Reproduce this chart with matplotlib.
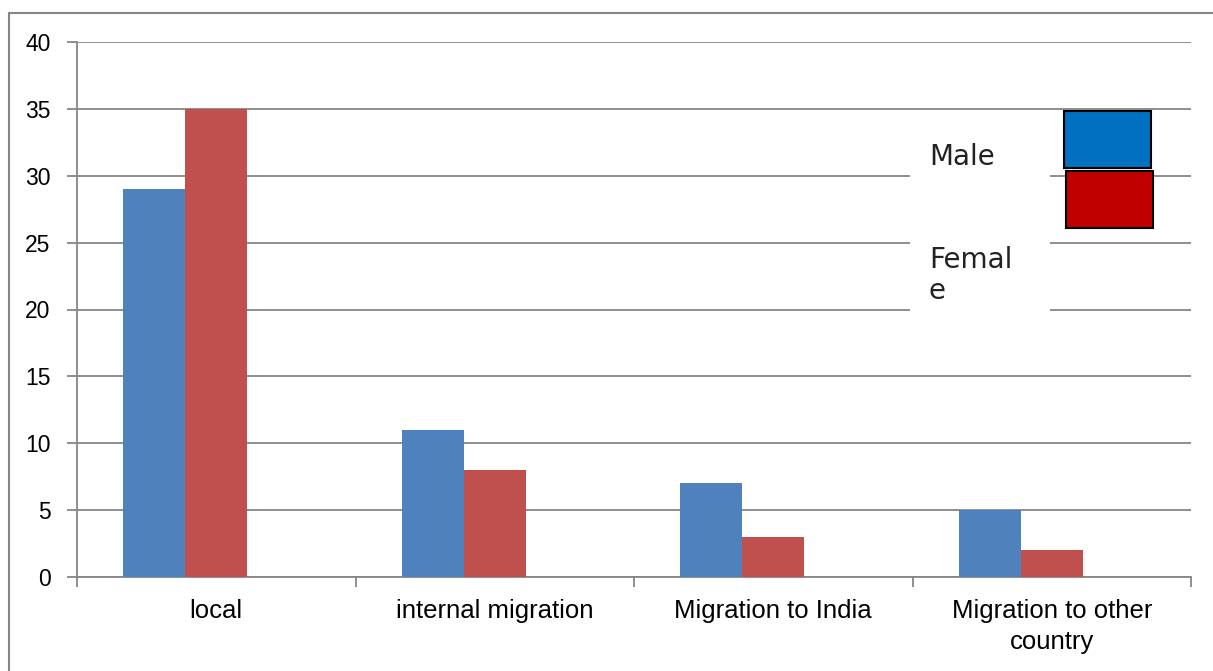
import matplotlib
matplotlib.use("Agg")
import matplotlib.pyplot as plt
from matplotlib.patches import Rectangle
import numpy as np

categories = ["local", "internal migration", "Migration to India", "Migration to other\ncountry"]
male = [29, 11, 7, 5]
female = [35, 8, 3, 2]
yticks = [0, 5, 10, 15, 20, 25, 30, 35, 40]

fig = plt.figure(figsize=(12.13, 6.71), dpi=100)
ax = fig.add_axes([77 / 1213, 1 - 577 / 671, (1191 - 77) / 1213, (577 - 42) / 671])

grid_c = "#868686"
x = np.arange(len(categories))
w = 1 / 4.5
ax.bar(x - w, male, w, align="center", color="#4F81BD", zorder=3)
ax.bar(x, female, w, align="center", color="#C0504D", zorder=3)

ax.set_xlim(-0.5, len(categories) - 0.5)
ax.set_ylim(0, 40)
ax.set_yticks(yticks)
ax.set_yticklabels([str(v) for v in yticks], fontsize=16.5, family="Liberation Sans")
for v in yticks:
    ax.axhline(v, color=grid_c, lw=1.3, zorder=1)

ax.set_xticks(x)
ax.set_xticklabels(categories, fontsize=18.5, family="Liberation Sans", linespacing=1.35)
ax.set_xticks(np.arange(len(categories) + 1) - 0.5, minor=True)
ax.tick_params(axis="x", which="major", length=0, pad=16)
ax.tick_params(axis="x", which="minor", length=7, color=grid_c, width=1.3, direction="out")
ax.tick_params(axis="y", length=7, color=grid_c, width=1.3, pad=12)
for s in ["top", "right"]:
    ax.spines[s].set_visible(False)
for s in ["left", "bottom"]:
    ax.spines[s].set_color(grid_c)
    ax.spines[s].set_linewidth(1.3)

# outer chart border
fig.patches.append(Rectangle((9 / 1213, -0.1), 1.2, 1 - 13 / 671 + 0.1, transform=fig.transFigure,
                             fill=False, edgecolor=grid_c, lw=1.5))

# legend (white block over gridlines, boxes at right)
def fx(px):
    return px / 1213

def fy(py):
    return 1 - py / 671

fig.patches.append(Rectangle((fx(910), fy(322)), fx(140), (322 - 118) / 671, transform=fig.transFigure,
                             facecolor="white", edgecolor="none", zorder=5))
fig.patches.append(Rectangle((fx(1064), fy(168)), fx(87), 57 / 671, transform=fig.transFigure,
                             facecolor="#0070C0", edgecolor="black", lw=1.5, zorder=6))
fig.patches.append(Rectangle((fx(1066), fy(228)), fx(87), 57 / 671, transform=fig.transFigure,
                             facecolor="#C00000", edgecolor="black", lw=1.5, zorder=6))
fig.text(fx(929), fy(165), "Male", fontsize=20, va="baseline", ha="left", color="#222222", zorder=7)
fig.text(fx(929), fy(299), "Femal\ne", fontsize=20, va="baseline", ha="left", color="#222222",
         linespacing=1.15, zorder=7)

fig.savefig("out.png", dpi=100)
